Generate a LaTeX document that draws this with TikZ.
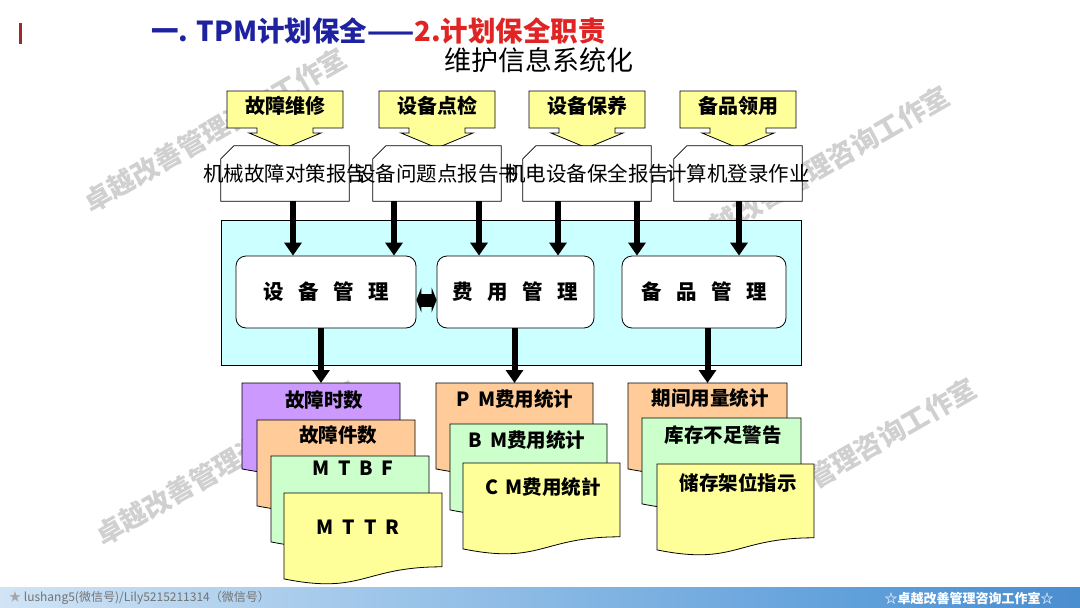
\documentclass[tikz,border=0pt]{standalone}
\usepackage{fontspec}
\setmainfont{Noto Sans CJK SC}
\usetikzlibrary{arrows.meta,calc}
\definecolor{tblue}{HTML}{1E22A0}
\definecolor{tred}{HTML}{E02424}
\definecolor{barred}{HTML}{A02828}
\definecolor{cyel}{HTML}{FFFF99}
\definecolor{cpur}{HTML}{CC99FF}
\definecolor{corg}{HTML}{FFCC99}
\definecolor{cgrn}{HTML}{CCFFCC}
\definecolor{ccyan}{HTML}{CCFFFF}
\definecolor{wmgray}{HTML}{D0D0D0}
\definecolor{fA}{HTML}{A9CFEE}
\definecolor{fB}{HTML}{E4F0FA}
\definecolor{fC}{HTML}{5F9FDA}
\definecolor{fD}{HTML}{1762B6}
\pgfdeclarehorizontalshading{footshade}{100bp}{color(0bp)=(fA); color(18bp)=(fB); color(65bp)=(fC); color(100bp)=(fD)}
\tikzset{
  bigarrow/.style={line width=6, -{Triangle[width=17,length=13]}},
  outl/.style={draw=black, line width=0.8},
  callouttext/.style={font=\fontsize{20}{24}\selectfont\bfseries, inner sep=0},
  doctext/.style={font=\fontsize{20.5}{24}\selectfont, inner sep=0},
  mgmt/.style={outl, fill=white, rounded corners=10, minimum width=#1, minimum height=72, inner sep=0, font=\fontsize{20.5}{24}\selectfont\bfseries},
  lbl/.style={font=\fontsize{19.5}{24}\selectfont\bfseries, inner sep=0},
  wm/.style={font=\fontsize{27}{30}\selectfont\bfseries, text=wmgray, rotate=30, inner sep=0},
  docbox/.style={minimum width=128, minimum height=55, inner sep=0}
}
\newcommand\mycallout[3]{%
  \filldraw[outl, fill=cyel] ({#1-58},91) -- ({#1+58},91) -- ({#1+58},128) -- ({#1+28},128) -- ({#1+28},133) -- ({#1+36},133) -- (#1,148) -- ({#1-36},133) -- ({#1-28},133) -- ({#1-28},128) -- ({#1-58},128) -- cycle;
  \node[callouttext] (#2) at (#1,106) {#3};
}
\newcommand\mytopdoc[3]{%
  \node[docbox] (#2) at (#1,173.5) {};
  \filldraw[outl, fill=white] ($(#2.north west)+(0,13)$) -- ($(#2.north west)+(13,0)$) -- (#2.north east) -- (#2.south east) -- (#2.south west) -- cycle;
  \node[doctext] (#2t) at (#2) {#3};
}
\newcommand\mywdoc[5]{%
  \filldraw[outl, fill=#4] (#1,#2) -- ({#1+#3},#2) -- ({#1+#3},{#2+73.8}) .. controls ({#1+#3/2},{#2+73.8}) and ({#1+#3/2},{#2+101.8}) .. (#1,{#2+85.9}) -- cycle;
  \coordinate (#5) at ({#1+#3/2},#2);
}
\begin{document}
\begin{tikzpicture}[x=1pt,y=-1pt]
\useasboundingbox (0,0) rectangle (1080,608);
\fill[white] (0,0) rectangle (1080,608);

% watermarks
\node[wm] (w1) at (215,130) {卓越改善管理咨询工作室};
\node[wm] (w2) at (818,168) {卓越改善管理咨询工作室};
\node[wm] (w3) at (227,463) {卓越改善管理咨询工作室};
\node[wm] (w4) at (845,460) {卓越改善管理咨询工作室};

% header
\draw[barred, line width=3] (20,23) -- (20,44);
\node[anchor=west, inner sep=0, font=\fontsize{27.5}{32}\selectfont\bfseries] (title) at (151,31) {\textcolor{tblue}{一. TPM计划保全——}\textcolor{tred}{2.计划保全职责}};
\node[inner sep=0, font=\fontsize{27}{32}\selectfont] (sub) at (539,60) {维护信息系统化};

% big cyan panel
\filldraw[outl, fill=ccyan] (221,220) rectangle (801,365);

% callouts and top documents
\mycallout{285}{c1}{故障维修}
\mycallout{437}{c2}{设备点检}
\mycallout{587}{c3}{设备保养}
\mycallout{738}{c4}{备品领用}
\mytopdoc{285}{d1}{机械故障对策报告}
\mytopdoc{437}{d2}{设备问题点报告书}
\mytopdoc{587}{d3}{机电设备保全报告}
\mytopdoc{738}{d4}{计算机登录作业}

% management boxes
\node[mgmt=180] (m1) at (326,292) {设\hspace{0.7em}备\hspace{0.7em}管\hspace{0.7em}理};
\node[mgmt=157] (m2) at (515.5,292) {费\hspace{0.7em}用\hspace{0.7em}管\hspace{0.7em}理};
\node[mgmt=164] (m3) at (704,292) {备\hspace{0.7em}品\hspace{0.7em}管\hspace{0.7em}理};

% arrow columns
\coordinate (a1) at (293,0);
\coordinate (a2) at (394,0);
\coordinate (a3) at (479,0);
\coordinate (a4) at (558,0);
\coordinate (a5) at (637,0);
\coordinate (a6) at (739,0);
\draw[bigarrow] (d1.south -| a1) -- (m1.north -| a1);
\draw[bigarrow] (d2.south -| a2) -- (m1.north -| a2);
\draw[bigarrow] (d2.south -| a3) -- (m2.north -| a3);
\draw[bigarrow] (d3.south -| a4) -- (m2.north -| a4);
\draw[bigarrow] (d3.south -| a5) -- (m3.north -| a5);
\draw[bigarrow] (d4.south -| a6) -- (m3.north -| a6);

% double arrow
\draw[line width=13, {Triangle[width=25,length=5]}-{Triangle[width=25,length=5]}] ([yshift=-8]m1.east) -- ([yshift=-8]m2.west);

% output stacks
\mywdoc{242}{383}{158}{cpur}{s1a}
\mywdoc{257}{420}{158}{corg}{s1b}
\mywdoc{271}{456}{158}{cgrn}{s1c}
\mywdoc{284}{493}{158}{cyel}{s1d}
\mywdoc{436}{383}{157}{corg}{s2a}
\mywdoc{450}{424}{157}{cgrn}{s2b}
\mywdoc{463}{463}{157}{cyel}{s2c}
\mywdoc{628}{383}{159}{corg}{s3a}
\mywdoc{642}{418}{159}{cgrn}{s3b}
\mywdoc{657}{464}{157}{cyel}{s3c}

\node[lbl] (l1a) at (324,400) {故障时数};
\node[lbl] (l1b) at (338,435) {故障件数};
\node[lbl] (l1c) at (353,468) {M\hspace{0.45em}T\hspace{0.45em}B\hspace{0.45em}F};
\node[lbl] (l1d) at (358,527) {M\hspace{0.45em}T\hspace{0.45em}T\hspace{0.45em}R};
\node[lbl] (l2a) at (515,399) {P\hspace{0.4em}M费用统计};
\node[lbl] (l2b) at (527,440) {B\hspace{0.4em}M费用统计};
\node[lbl] (l2c) at (543,487) {C\hspace{0.4em}M费用统計};
\node[lbl] (l3a) at (710,398) {期间用量统计};
\node[lbl] (l3b) at (723,435) {库存不足警告};
\node[lbl] (l3c) at (738,483) {储存架位指示};

\draw[bigarrow] (m1.south -| s1a) -- (s1a);
\draw[bigarrow] (m2.south -| s2a) -- (s2a);
\draw[bigarrow] (m3.south -| s3a) -- (s3a);

% footer
\shade[shading=footshade] (0,587) rectangle (1080,608);
\node[anchor=west, inner sep=0, text=black!55, font=\fontsize{12}{14}\selectfont] (fl) at (9,598) {\textcolor{gray!70}{★} lushang5(微信号)/Lily5215211314（微信号）};
\node[inner sep=0, text=white, font=\fontsize{13}{15}\selectfont\bfseries] (fr) at (969,598) {☆卓越改善管理咨询工作室☆};
\end{tikzpicture}
\end{document}
